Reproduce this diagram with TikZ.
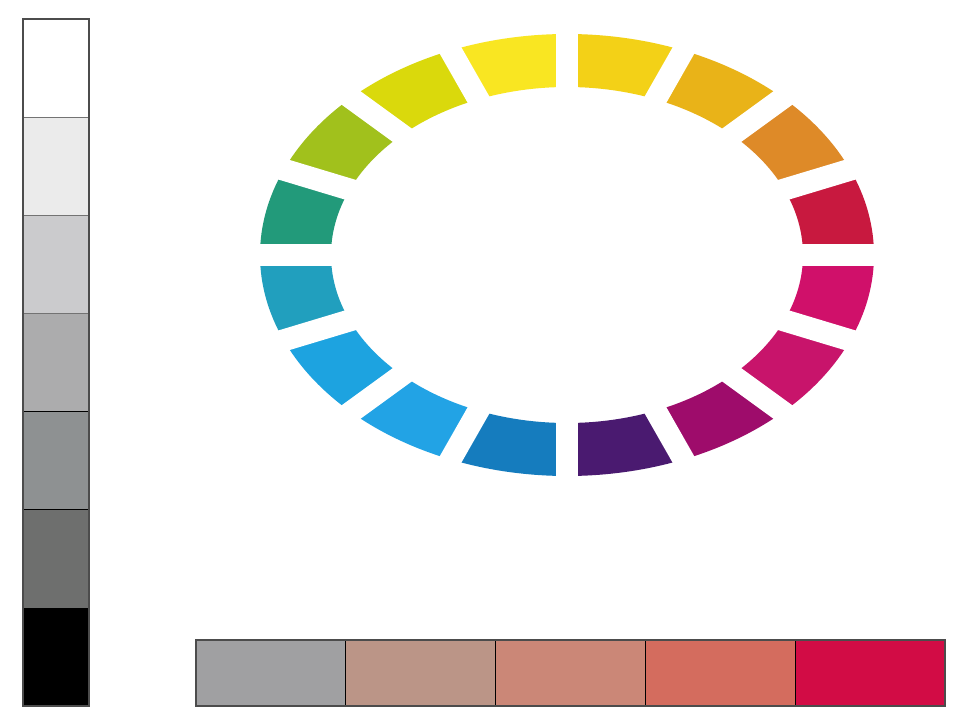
\documentclass[tikz,border=0pt]{standalone}
\definecolor{gA}{HTML}{FFFFFF}
\definecolor{gB}{HTML}{EBEBEB}
\definecolor{gC}{HTML}{CBCBCD}
\definecolor{gD}{HTML}{ACACAD}
\definecolor{gE}{HTML}{8E9192}
\definecolor{gF}{HTML}{6E6F6E}
\definecolor{gG}{HTML}{000000}
\definecolor{bA}{HTML}{A0A0A2}
\definecolor{bB}{HTML}{BB9587}
\definecolor{bC}{HTML}{CB8777}
\definecolor{bD}{HTML}{D46C5E}
\definecolor{bE}{HTML}{D20C45}
\definecolor{w0}{HTML}{C8193F}
\definecolor{w1}{HTML}{DE8A28}
\definecolor{w2}{HTML}{E9B318}
\definecolor{w3}{HTML}{F3D117}
\definecolor{w4}{HTML}{F9E622}
\definecolor{w5}{HTML}{DAD90C}
\definecolor{w6}{HTML}{A1C11C}
\definecolor{w7}{HTML}{229A7A}
\definecolor{w8}{HTML}{219FBE}
\definecolor{w9}{HTML}{1DA3E0}
\definecolor{w10}{HTML}{22A3E5}
\definecolor{w11}{HTML}{157CBE}
\definecolor{w12}{HTML}{4A1A70}
\definecolor{w13}{HTML}{9E0C6B}
\definecolor{w14}{HTML}{C8146B}
\definecolor{w15}{HTML}{D0106A}
\tikzset{
  gapline/.style={white, line width=22},
  boxline/.style={line width=1.2, draw=black!70},
}
\begin{document}
\begin{tikzpicture}[x=1pt,y=1pt]
\useasboundingbox (0,0) rectangle (964,724);
\fill[white] (0,0) rectangle (964,724);
% grayscale strip
\foreach \c [count=\i from 0] in {gA,gB,gC,gD,gE,gF,gG} {
  \fill[\c] (23,{705-98.14*\i}) rectangle (89,{705-98.14*(\i+1)});
}
\foreach \i/\cl in {1/black!55,2/black!55,3/black!55,4/black,5/black} {
  \draw[line width=1.2, \cl] (23,{705-98.14*\i}) -- (89,{705-98.14*\i});
}
\draw[boxline] (23,18) rectangle (89,705);
% bottom strip
\foreach \c [count=\i from 0] in {bA,bB,bC,bD,bE} {
  \fill[\c] ({196+149.8*\i},18) rectangle ({196+149.8*(\i+1)},84);
}
\foreach \i in {1,2,3,4} {
  \draw[line width=1.2, black] ({196+149.8*\i},18) -- ({196+149.8*\i},84);
}
\draw[boxline] (196,18) rectangle (945,84);
% colour wheel
\begin{scope}[shift={(567,469)}]
\foreach \c [count=\i from 0] in {w0,w1,w2,w3,w4,w5,w6,w7,w8,w9,w10,w11,w12,w13,w14,w15} {
  \pgfmathsetmacro\a{\i*22.5}
  \pgfmathsetmacro\b{\a+22.5}
  \fill[\c] (\a:307 and 221) arc[start angle=\a, end angle=\b, x radius=307, y radius=221]
    -- (\b:236 and 168) arc[start angle=\b, end angle=\a, x radius=236, y radius=168] -- cycle;
}
\foreach \k in {0,...,7} {
  \draw[gapline] ({\k*22.5}:330 and 240) -- ({\k*22.5+180}:330 and 240);
}
\end{scope}
\end{tikzpicture}
\end{document}
